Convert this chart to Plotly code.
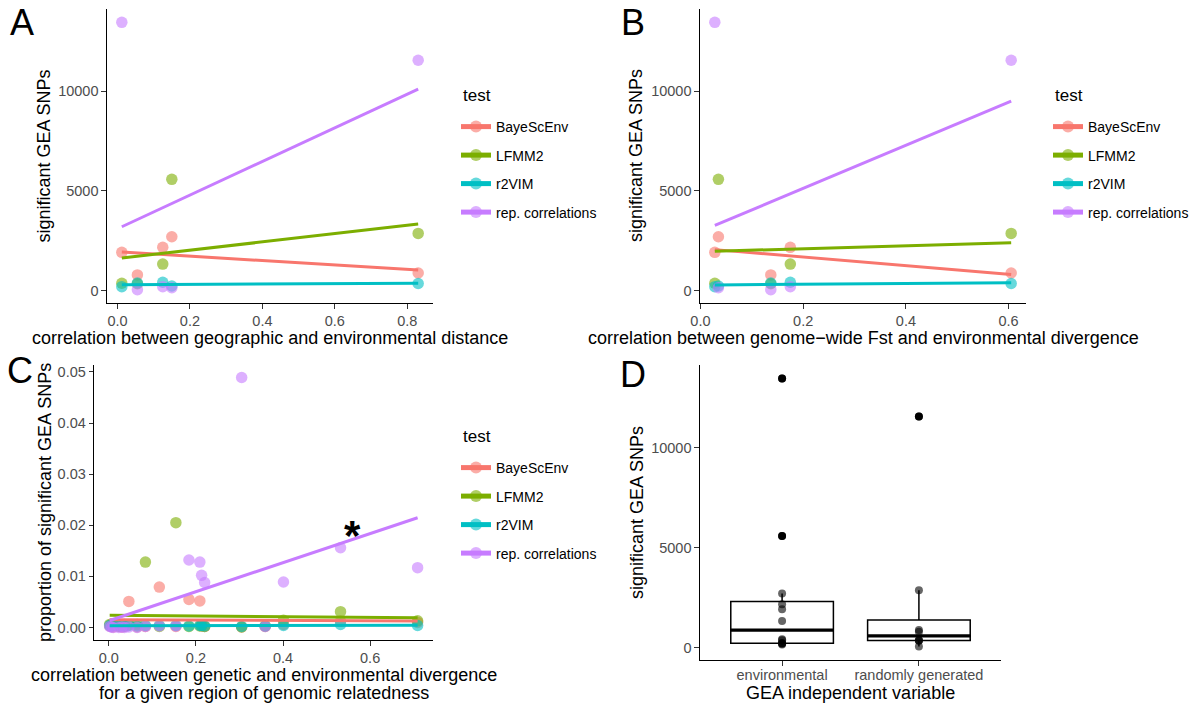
import numpy as np
import plotly.graph_objects as go

PAGE_W, PAGE_H = 1200, 708
OFF = 0  # the page's default body margin is removed below (post_script)
W, H = PAGE_W - OFF, PAGE_H - OFF
FONT = "Liberation Sans, Arial, sans-serif"

# ---------------- data ----------------
tests = ["BayeScEnv", "LFMM2", "r2VIM", "rep. correlations"]
test_colors = ["#F8766D", "#7CAE00", "#00BFC4", "#C77CFF"]

# panels A, B, D : one value per dataset
geo_env_corr = [0.012, 0.055, 0.125, 0.150, 0.830]
fst_env_corr = [0.028, 0.137, 0.175, 0.035, 0.605]
gea_variable = ["environmental", "randomly generated", "environmental",
                "environmental", "randomly generated"]
snps_bayescenv = [1920, 790, 2170, 2700, 885]
snps_lfmm2 = [370, 345, 1330, 5580, 2870]
snps_r2vim = [200, 380, 420, 230, 360]
snps_repcorr = [13450, 50, 200, 150, 11550]

# panel C : one value per region of genomic relatedness
region_corr = [0.002, 0.006, 0.010, 0.023, 0.030, 0.036, 0.046, 0.065, 0.084, 0.116,
               0.154, 0.184, 0.209, 0.213, 0.220, 0.305, 0.359, 0.401, 0.532, 0.709]
prop_bayescenv = [0.0003, 0.0002, 0.0001, 0.0002, 0.0001, 0.0002, 0.0051, 0.0001, 0.0002, 0.0079,
                  0.0002, 0.0055, 0.0052, 0.0003, 0.0002, 0.0001, 0.0002, 0.0006, 0.0012, 0.0010]
prop_lfmm2 = [0.0006, 0.0006, 0.0005, 0.0006, 0.0005, 0.0006, 0.0005, 0.0006, 0.0128, 0.0002,
              0.0205, 0.0002, 0.0003, 0.0004, 0.0002, 0.0001, 0.0003, 0.0014, 0.0031, 0.0013]
prop_r2vim = [0.0004, 0.0003, 0.0004, 0.0003, 0.0004, 0.0003, 0.0004, 0.0003, 0.0004, 0.0004,
              0.0004, 0.0003, 0.0004, 0.0004, 0.0003, 0.0002, 0.0003, 0.0004, 0.0006, 0.0004]
prop_repcorr = [0.0002, 0.0001, 0.0000, 0.0000, 0.0001, 0.0000, 0.0001, 0.0000, 0.0002, 0.0003,
                0.0003, 0.0132, 0.0128, 0.0102, 0.0088, 0.0489, 0.0002, 0.0089, 0.0156, 0.0117]

gea_categories = ["environmental", "randomly generated"]

corr_ticks = [0.0, 0.2, 0.4, 0.6, 0.8]
snp_ticks = [0, 5000, 10000]
prop_ticks = [0.00, 0.01, 0.02, 0.03, 0.04, 0.05]

snps_by_test = [snps_bayescenv, snps_lfmm2, snps_r2vim, snps_repcorr]
prop_by_test = [prop_bayescenv, prop_lfmm2, prop_r2vim, prop_repcorr]


# ---------------- helpers ----------------
def px(x):
    """page pixel x -> paper fraction"""
    return (x - OFF) / W


def py(y):
    """page pixel y -> paper fraction"""
    return 1 - (y - OFF) / H


def rgba(hexc, a):
    h = hexc.lstrip("#")
    return "rgba(%d,%d,%d,%s)" % (int(h[0:2], 16), int(h[2:4], 16), int(h[4:6], 16), a)


def expand(vals, f=0.05):
    v = np.asarray(vals, float)
    lo, hi = v.min(), v.max()
    d = (hi - lo) * f
    return [lo - d, hi + d]


def fit_line(x, y):
    x = np.asarray(x, float)
    y = np.asarray(y, float)
    b, a = np.polyfit(x, y, 1)
    xs = np.array([x.min(), x.max()])
    return xs, a + b * xs


fig = go.Figure()

PT_SIZE = 11.5
PT_ALPHA = 0.6
LINE_W = 3

scatter_panels = [
    ("x", "y", "legend", [geo_env_corr] * 4, snps_by_test),
    ("x2", "y2", "legend2", [fst_env_corr] * 4, snps_by_test),
    ("x3", "y3", "legend3", [region_corr] * 4, prop_by_test),
]

for xa, ya, lg, xs_list, ys_list in scatter_panels:
    for t, col, xv, yv in zip(tests, test_colors, xs_list, ys_list):
        fig.add_trace(go.Scatter(
            x=xv, y=yv, mode="markers", xaxis=xa, yaxis=ya,
            marker=dict(size=PT_SIZE, color=rgba(col, PT_ALPHA), line=dict(width=0)),
            showlegend=False, legendgroup=lg + t, hoverinfo="skip"))
    for t, col, xv, yv in zip(tests, test_colors, xs_list, ys_list):
        lx, ly = fit_line(xv, yv)
        fig.add_trace(go.Scatter(
            x=lx, y=ly, mode="lines", xaxis=xa, yaxis=ya,
            line=dict(color=col, width=LINE_W),
            showlegend=False, legendgroup=lg + t, hoverinfo="skip"))
    # legend keys (point + line); they carry no data
    for t, col in zip(tests, test_colors):
        fig.add_trace(go.Scatter(
            x=[None], y=[None], mode="lines+markers", xaxis=xa, yaxis=ya,
            line=dict(color=col, width=LINE_W),
            marker=dict(size=PT_SIZE, color=rgba(col, PT_ALPHA), line=dict(width=0)),
            name=t, legend=lg, legendgroup=lg + t, showlegend=True))

# ---------------- panel D (boxplot, R type-7 quartiles) ----------------
BOX_W = 0.75
for i, cat in enumerate(gea_categories):
    pos = i + 1
    vals = np.array([v for ys in snps_by_test for v, g in zip(ys, gea_variable) if g == cat], float)
    q1, med, q3 = np.percentile(vals, [25, 50, 75])
    iqr = q3 - q1
    inside = vals[(vals >= q1 - 1.5 * iqr) & (vals <= q3 + 1.5 * iqr)]
    outl = vals[(vals < q1 - 1.5 * iqr) | (vals > q3 + 1.5 * iqr)]
    fig.add_trace(go.Box(
        x=[pos], q1=[q1], median=[med], q3=[q3],
        lowerfence=[inside.min()], upperfence=[inside.max()],
        xaxis="x4", yaxis="y4", width=BOX_W, boxpoints=False,
        fillcolor="white", line=dict(color="black", width=1.5), whiskerwidth=0,
        showlegend=False, hoverinfo="skip"))
    fig.add_trace(go.Scatter(
        x=[pos - BOX_W / 2, pos + BOX_W / 2], y=[med, med], mode="lines",
        xaxis="x4", yaxis="y4", line=dict(color="black", width=3.3),
        showlegend=False, hoverinfo="skip"))
    fig.add_trace(go.Scatter(
        x=[pos] * len(outl), y=outl, mode="markers", xaxis="x4", yaxis="y4",
        marker=dict(size=8, color="black", line=dict(width=0)),
        showlegend=False, hoverinfo="skip"))
    fig.add_trace(go.Scatter(
        x=[pos] * len(vals), y=vals, mode="markers", xaxis="x4", yaxis="y4",
        marker=dict(size=8, color="rgba(0,0,0,0.6)", line=dict(width=0)),
        showlegend=False, hoverinfo="skip"))

# ---------------- axes ----------------
axis_common = dict(showline=True, linecolor="black", linewidth=1.2, ticks="outside",
                   ticklen=4.5, tickwidth=1.1, tickcolor="#333333",
                   tickfont=dict(family=FONT, size=14.5, color="#4D4D4D"),
                   showgrid=False, zeroline=False)

snp_range = expand([v for ys in snps_by_test for v in ys])
prop_range = expand([v for ys in prop_by_test for v in ys])

fig.update_layout(
    xaxis=dict(domain=[px(107), px(433)], anchor="y", range=expand(geo_env_corr),
               tickvals=corr_ticks, tickformat=".1f", ticklabelstandoff=0, **axis_common),
    yaxis=dict(domain=[py(303), py(9)], anchor="x", range=snp_range,
               tickvals=snp_ticks, tickformat="d", **axis_common),
    xaxis2=dict(domain=[px(700), px(1026)], anchor="y2", range=expand(fst_env_corr),
                tickvals=corr_ticks[:4], tickformat=".1f", ticklabelstandoff=0, **axis_common),
    yaxis2=dict(domain=[py(303), py(9)], anchor="x2", range=snp_range,
                tickvals=snp_ticks, tickformat="d", **axis_common),
    xaxis3=dict(domain=[px(94.3), px(433)], anchor="y3", range=expand(region_corr),
                tickvals=corr_ticks[:4], tickformat=".1f", ticklabelstandoff=0, **axis_common),
    yaxis3=dict(domain=[py(640), py(365)], anchor="x3", range=prop_range,
                tickvals=prop_ticks, tickformat=".2f", **axis_common),
    xaxis4=dict(domain=[px(700), px(1001)], anchor="y4", range=[0.4, 2.6],
                tickvals=[1, 2], ticktext=gea_categories, ticklabelstandoff=-3, **axis_common),
    yaxis4=dict(domain=[py(660), py(365)], anchor="x4", range=snp_range,
                tickvals=snp_ticks, tickformat="d", **axis_common),
)

legend_common = dict(xanchor="left", yanchor="top", bgcolor="rgba(0,0,0,0)",
                     font=dict(family=FONT, size=14, color="black"),
                     traceorder="grouped", tracegroupgap=7.3, itemsizing="constant")
fig.update_layout(
    legend=dict(x=px(456), y=py(111), **legend_common),
    legend2=dict(x=px(1048), y=py(111), **legend_common),
    legend3=dict(x=px(456), y=py(452), **legend_common),
)

# ---------------- text ----------------
ann = []


def text(x, y, s, size=18, angle=0, family=FONT, bold=False, xanchor="center"):
    ann.append(dict(x=px(x), y=py(y), xref="paper", yref="paper", text=s,
                    showarrow=False, xanchor=xanchor, yanchor="middle", textangle=angle,
                    font=dict(family=family, size=size, color="black",
                              weight="bold" if bold else "normal")))


text(43.5, 156, "significant GEA SNPs", angle=-90)
text(270, 338, "correlation between geographic and environmental distance")
text(636, 156, "significant GEA SNPs", angle=-90)
text(863, 338, "correlation between genome\u2212wide Fst and environmental divergence")
text(45, 503, "proportion of significant GEA SNPs", angle=-90)
text(264, 675, "correlation between genetic and environmental divergence")
text(264, 693, "for a given region of genomic relatedness")
text(637, 513, "significant GEA SNPs", angle=-90)
text(850, 693, "GEA independent variable")

# legend titles
text(461, 95, "test", size=17, xanchor="left")
text(1053, 95, "test", size=17, xanchor="left")
text(461, 437, "test", size=17, xanchor="left")

# panel letters
text(21.5, 22.5, "A", size=36)
text(633, 23, "B", size=36)
text(19.5, 370, "C", size=36)
text(633, 374, "D", size=36)

text(352, 535.5, "*", size=42, bold=True)

fig.update_layout(
    annotations=ann,
    width=W, height=H, margin=dict(l=0, r=0, t=0, b=0, autoexpand=False),
    paper_bgcolor="white", plot_bgcolor="white",
    font=dict(family=FONT, color="black"),
)

fig.write_html("out.html", config={"displayModeBar": False},
               post_script="document.body.style.margin='0';")
